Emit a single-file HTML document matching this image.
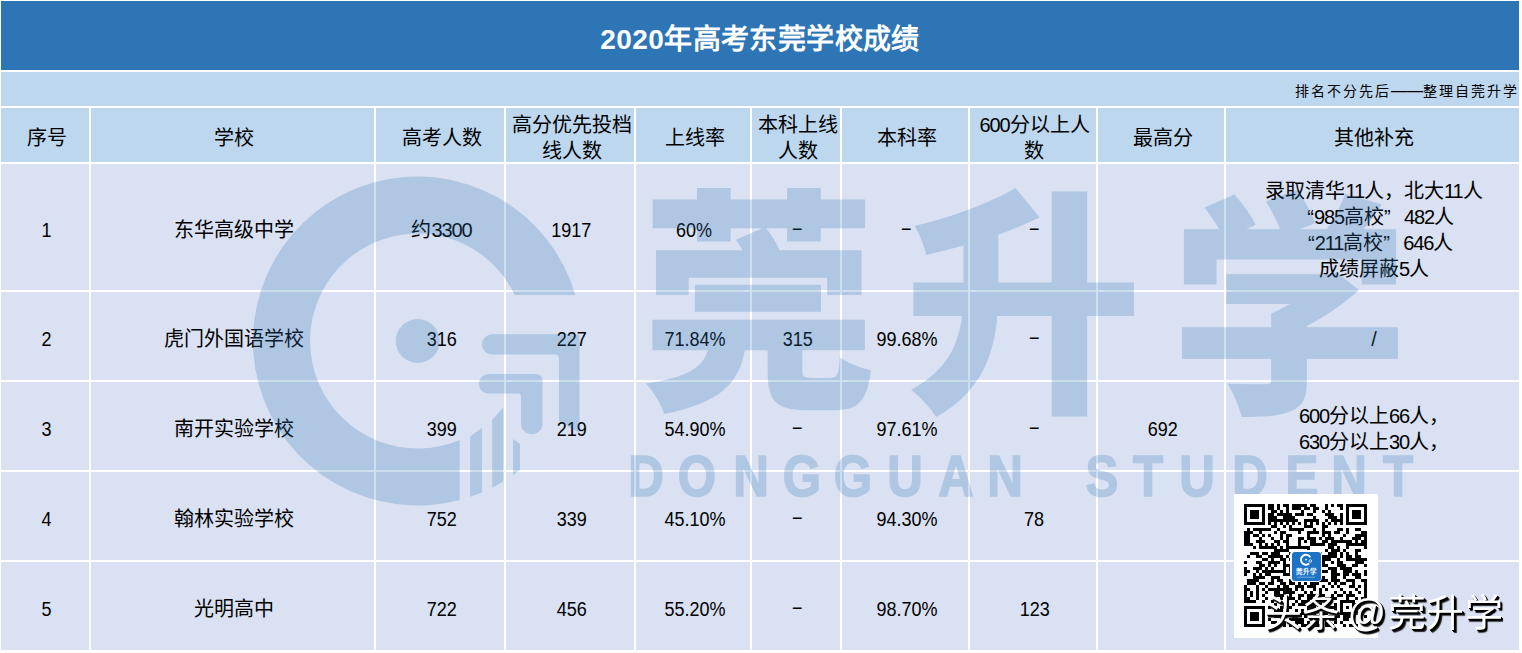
<!DOCTYPE html>
<html lang="zh-CN">
<head>
<meta charset="utf-8">
<title>2020年高考东莞学校成绩</title>
<style>
html,body{margin:0;padding:0;}
body{width:1522px;height:653px;overflow:hidden;background:#fff;position:relative;
  font-family:"Liberation Sans",sans-serif;color:#000;}
#sheet{position:absolute;left:1px;top:1px;display:grid;gap:2px;background:#fff;
  grid-template-columns:88px 283px 128px 128px 114px 88px 126px 126px 126px 293px;
  grid-template-rows:69px 34px 54px 126px 88px 88px 88px 88px;}
#sheet>div{display:flex;align-items:center;justify-content:center;text-align:center;
  font-size:20px;line-height:26px;white-space:nowrap;overflow:hidden;box-sizing:border-box;padding-top:5px;padding-left:3px;}
.title{grid-column:1/-1;background:#2e75b6;color:#fff;font-weight:bold;font-size:28px !important;padding-top:9px !important;padding-left:0 !important;letter-spacing:.4px;}
.sub{grid-column:1/-1;background:#bdd7ee;justify-content:flex-end !important;font-size:14px !important;letter-spacing:2px;padding-top:3px !important;padding-left:0 !important;}
.h{background:#bdd7ee;}
.c{background:#d9e1f2;}
.n{display:inline-block;transform:scaleX(.9);}
.d{letter-spacing:-1.1px;}
.m{display:inline-block;transform:translateY(-2px) scaleX(1.8);}
.em{font-size:16px;letter-spacing:0;}
.q{display:inline-block;width:20px;}
.ql{text-align:right;}
.qr{text-align:left;}
#wm{position:absolute;left:0;top:0;pointer-events:none;}
#qrbox{position:absolute;left:1234px;top:494px;width:144px;height:144px;background:#fff;}
#qrbox svg{position:absolute;left:10px;top:10px;}
#logo{position:absolute;left:56px;top:56px;width:32px;height:32px;background:#fff;border-radius:4.5px;}
#logo i{position:absolute;left:1.5px;top:1.5px;width:29px;height:29px;border-radius:3px;background:#1c73c5;display:block;}
#logo b{position:absolute;left:0;width:32px;top:18px;text-align:center;color:#fff;font-size:6.5px;line-height:8px;font-weight:bold;}
#logo svg{position:absolute;left:0;top:0;}
#tt{position:absolute;left:1263.5px;top:591px;font-size:38px;line-height:44px;color:#fff;white-space:nowrap;
  text-shadow:1px 1px 0 #000,2px 2px 0 #000,2.5px 2.5px 1px #222;}
#tt i{display:inline-block;width:8px;}
#tt span{margin-left:2px;letter-spacing:.4px;}
</style>
</head>
<body>
<div id="sheet">
  <div class="title">2020年高考东莞学校成绩</div>
  <div class="sub">排名不分先后<span class="em">——</span>整理自莞升学</div>

  <div class="h">序号</div>
  <div class="h">学校</div>
  <div class="h">高考人数</div>
  <div class="h">高分优先投档<br>线人数</div>
  <div class="h">上线率</div>
  <div class="h">本科上线<br>人数</div>
  <div class="h">本科率</div>
  <div class="h"><span><span class="d">600</span>分以上人<br>数</span></div>
  <div class="h">最高分</div>
  <div class="h">其他补充</div>

  <div class="c"><span class="n">1</span></div>
  <div class="c">东华高级中学</div>
  <div class="c"><span>约<span class="d">3300</span></span></div>
  <div class="c"><span class="n">1917</span></div>
  <div class="c"><span class="n">60%</span></div>
  <div class="c"><span class="m">-</span></div>
  <div class="c"><span class="m">-</span></div>
  <div class="c"><span class="m">-</span></div>
  <div class="c"></div>
  <div class="c"><span>录取清华<span class="d">11</span>人，北大<span class="d">11</span>人<br><span class="q ql">“</span><span class="d">985</span>高校<span class="q qr">”</span><span class="d">482</span>人<br><span class="q ql">“</span><span class="d">211</span>高校<span class="q qr">”</span><span class="d">646</span>人<br>成绩屏蔽<span class="d">5</span>人</span></div>

  <div class="c"><span class="n">2</span></div>
  <div class="c">虎门外国语学校</div>
  <div class="c"><span class="n">316</span></div>
  <div class="c"><span class="n">227</span></div>
  <div class="c"><span class="n">71.84%</span></div>
  <div class="c"><span class="n">315</span></div>
  <div class="c"><span class="n">99.68%</span></div>
  <div class="c"><span class="m">-</span></div>
  <div class="c"></div>
  <div class="c">/</div>

  <div class="c"><span class="n">3</span></div>
  <div class="c">南开实验学校</div>
  <div class="c"><span class="n">399</span></div>
  <div class="c"><span class="n">219</span></div>
  <div class="c"><span class="n">54.90%</span></div>
  <div class="c"><span class="m">-</span></div>
  <div class="c"><span class="n">97.61%</span></div>
  <div class="c"><span class="m">-</span></div>
  <div class="c"><span class="n">692</span></div>
  <div class="c"><span><span class="d">600</span>分以上<span class="d">66</span>人，<br><span class="d">630</span>分以上<span class="d">30</span>人，</span></div>

  <div class="c"><span class="n">4</span></div>
  <div class="c">翰林实验学校</div>
  <div class="c"><span class="n">752</span></div>
  <div class="c"><span class="n">339</span></div>
  <div class="c"><span class="n">45.10%</span></div>
  <div class="c"><span class="m">-</span></div>
  <div class="c"><span class="n">94.30%</span></div>
  <div class="c"><span class="n">78</span></div>
  <div class="c"></div>
  <div class="c"></div>

  <div class="c"><span class="n">5</span></div>
  <div class="c">光明高中</div>
  <div class="c"><span class="n">722</span></div>
  <div class="c"><span class="n">456</span></div>
  <div class="c"><span class="n">55.20%</span></div>
  <div class="c"><span class="m">-</span></div>
  <div class="c"><span class="n">98.70%</span></div>
  <div class="c"><span class="n">123</span></div>
  <div class="c"></div>
  <div class="c"></div>
</div>

<svg id="wm" width="1522" height="653" viewBox="0 0 1522 653">
  <g fill="#2e75b6" opacity="0.24">
    <path d="M575.4 295A164.5 164.5 0 1 0 459.7 500L459.7 439.9A107.5 107.5 0 1 1 514.7 295Z"/>
    <circle cx="417.7" cy="341" r="22"/>
    <path d="M470.2 436.5L482 427.7V492.3A164.5 164.5 0 0 1 470.2 496.8Z"/>
    <path d="M492.2 420L503.2 407.5V481.4A164.5 164.5 0 0 1 492.2 487.6Z"/>
    <path d="M513 439L520 444V469.7A164.5 164.5 0 0 1 513 474.9Z"/>
    <path d="M492.2 334.2H576.5Q579.5 334.2 579.5 337.2V433L559 421V358.6Q559 354.6 555 354.6H492.2A10.2 10.2 0 0 1 492.2 334.2Z"/>
    <path d="M488.8 374H535.5Q542.5 374 542.5 381V423.4A10.75 10.75 0 0 1 521 423.4V396.6Q521 393.6 518 393.6H488.8A9.8 9.8 0 0 1 488.8 374Z"/>
<path transform="translate(640.07 390.97) scale(0.2371 -0.2374)" d="M231 447V334H763V447ZM52 300V171H286C264 100 205 57 25 31C54 0 90 -59 102 -97C345 -50 417 37 442 171H538V89C538 -38 567 -81 702 -81C728 -81 791 -81 819 -81C918 -81 957 -47 974 87C934 96 871 119 842 142C838 66 832 55 804 55C787 55 738 55 723 55C690 55 684 58 684 91V171H948V300ZM404 637C413 624 423 609 432 593H67V404H205V477H789V404H934V593H589C575 623 554 657 532 685H620V630H762V685H949V807H762V855H620V807H382V855H240V807H53V685H240V630H382V685H516Z"/>
<path transform="translate(904.58 393.91) scale(0.2377 -0.2405)" d="M467 856C357 793 197 734 42 698C61 666 84 613 91 578C142 589 195 602 248 617V463H37V324H242C228 209 179 96 27 17C61 -8 111 -62 133 -96C324 8 377 166 390 324H619V-94H768V324H965V463H768V842H619V463H394V662C455 683 514 707 568 733Z"/>
<path transform="translate(1169.77 395.82) scale(0.2397 -0.2379)" d="M423 346V288H51V155H423V66C423 53 417 49 397 49C377 48 298 48 242 51C264 14 291 -48 300 -89C382 -89 449 -87 502 -66C555 -46 572 -9 572 62V155H952V288H572V294C654 337 730 391 789 445L697 518L667 511H236V386H502C477 371 449 357 423 346ZM401 817C423 782 446 737 460 700H319L358 718C342 756 303 808 269 846L145 791C166 764 189 730 206 700H59V468H195V573H801V468H944V700H809C834 732 860 768 885 804L733 848C715 803 685 746 655 700H542L607 725C594 765 561 823 530 865Z"/>
    <g transform="scale(0.85 1)" font-family="Liberation Sans, sans-serif" font-weight="bold" font-size="58" text-anchor="middle" stroke="#2e75b6" stroke-width="1.6">
      <text y="496.5" x="760 820 883.5 943.5 1003.5 1064.7 1124.7 1182.4">DONGGUAN</text>
      <text y="496.5" x="1296.5 1350.6 1408.2 1470.6 1531.8 1587 1644.7">STUDENT</text>
    </g>
  </g>
</svg>

<div id="qrbox">
  <svg width="123" height="123" viewBox="0 0 41 41" shape-rendering="crispEdges"><path fill="#000" d="M0 0h7v1h-7zM8 0h2v1h-2zM11 0h1v1h-1zM13 0h2v1h-2zM16 0h5v1h-5zM22 0h2v1h-2zM27 0h1v1h-1zM29 0h1v1h-1zM31 0h2v1h-2zM34 0h7v1h-7zM0 1h1v1h-1zM6 1h1v1h-1zM8 1h2v1h-2zM11 1h1v1h-1zM14 1h1v1h-1zM16 1h3v1h-3zM20 1h2v1h-2zM23 1h2v1h-2zM27 1h1v1h-1zM32 1h1v1h-1zM34 1h1v1h-1zM40 1h1v1h-1zM0 2h1v1h-1zM2 2h3v1h-3zM6 2h1v1h-1zM9 2h2v1h-2zM12 2h1v1h-1zM14 2h1v1h-1zM19 2h1v1h-1zM23 2h1v1h-1zM26 2h1v1h-1zM28 2h1v1h-1zM34 2h1v1h-1zM36 2h3v1h-3zM40 2h1v1h-1zM0 3h1v1h-1zM2 3h3v1h-3zM6 3h1v1h-1zM8 3h2v1h-2zM11 3h5v1h-5zM17 3h3v1h-3zM21 3h2v1h-2zM27 3h3v1h-3zM32 3h1v1h-1zM34 3h1v1h-1zM36 3h3v1h-3zM40 3h1v1h-1zM0 4h1v1h-1zM2 4h3v1h-3zM6 4h1v1h-1zM8 4h3v1h-3zM13 4h4v1h-4zM23 4h1v1h-1zM28 4h3v1h-3zM32 4h1v1h-1zM34 4h1v1h-1zM36 4h3v1h-3zM40 4h1v1h-1zM0 5h1v1h-1zM6 5h1v1h-1zM8 5h10v1h-10zM20 5h5v1h-5zM27 5h1v1h-1zM29 5h4v1h-4zM34 5h1v1h-1zM40 5h1v1h-1zM0 6h7v1h-7zM8 6h1v1h-1zM10 6h1v1h-1zM12 6h1v1h-1zM14 6h1v1h-1zM16 6h1v1h-1zM18 6h1v1h-1zM20 6h1v1h-1zM22 6h1v1h-1zM24 6h1v1h-1zM26 6h1v1h-1zM28 6h1v1h-1zM30 6h1v1h-1zM32 6h1v1h-1zM34 6h7v1h-7zM9 7h2v1h-2zM13 7h1v1h-1zM15 7h1v1h-1zM20 7h3v1h-3zM26 7h2v1h-2zM1 8h1v1h-1zM3 8h6v1h-6zM11 8h1v1h-1zM15 8h5v1h-5zM23 8h1v1h-1zM26 8h1v1h-1zM31 8h2v1h-2zM34 8h1v1h-1zM37 8h2v1h-2zM0 9h3v1h-3zM5 9h1v1h-1zM10 9h1v1h-1zM12 9h2v1h-2zM18 9h1v1h-1zM21 9h4v1h-4zM26 9h3v1h-3zM30 9h2v1h-2zM34 9h1v1h-1zM39 9h2v1h-2zM0 10h2v1h-2zM3 10h2v1h-2zM6 10h1v1h-1zM8 10h1v1h-1zM12 10h1v1h-1zM14 10h2v1h-2zM21 10h1v1h-1zM26 10h1v1h-1zM28 10h1v1h-1zM33 10h1v1h-1zM37 10h4v1h-4zM0 11h2v1h-2zM5 11h1v1h-1zM9 11h1v1h-1zM12 11h1v1h-1zM14 11h1v1h-1zM18 11h2v1h-2zM21 11h3v1h-3zM25 11h1v1h-1zM27 11h3v1h-3zM32 11h1v1h-1zM36 11h3v1h-3zM40 11h1v1h-1zM0 12h2v1h-2zM4 12h3v1h-3zM10 12h2v1h-2zM13 12h2v1h-2zM18 12h1v1h-1zM20 12h1v1h-1zM22 12h2v1h-2zM26 12h2v1h-2zM29 12h7v1h-7zM37 12h1v1h-1zM39 12h2v1h-2zM0 13h3v1h-3zM5 13h1v1h-1zM7 13h1v1h-1zM9 13h1v1h-1zM11 13h1v1h-1zM14 13h1v1h-1zM18 13h1v1h-1zM22 13h5v1h-5zM28 13h3v1h-3zM34 13h7v1h-7zM3 14h1v1h-1zM5 14h6v1h-6zM12 14h1v1h-1zM14 14h8v1h-8zM28 14h2v1h-2zM31 14h1v1h-1zM34 14h1v1h-1zM40 14h1v1h-1zM10 15h5v1h-5zM21 15h1v1h-1zM27 15h1v1h-1zM29 15h3v1h-3zM33 15h1v1h-1zM37 15h2v1h-2zM2 16h3v1h-3zM6 16h2v1h-2zM9 16h3v1h-3zM15 16h1v1h-1zM17 16h3v1h-3zM21 16h1v1h-1zM24 16h2v1h-2zM28 16h3v1h-3zM32 16h1v1h-1zM34 16h1v1h-1zM37 16h1v1h-1zM1 17h1v1h-1zM4 17h2v1h-2zM8 17h5v1h-5zM14 17h1v1h-1zM17 17h1v1h-1zM21 17h3v1h-3zM26 17h5v1h-5zM32 17h1v1h-1zM34 17h2v1h-2zM37 17h2v1h-2zM6 18h2v1h-2zM9 18h1v1h-1zM12 18h2v1h-2zM15 18h4v1h-4zM21 18h1v1h-1zM23 18h1v1h-1zM25 18h4v1h-4zM31 18h1v1h-1zM34 18h7v1h-7zM0 19h1v1h-1zM4 19h2v1h-2zM8 19h4v1h-4zM13 19h1v1h-1zM17 19h5v1h-5zM25 19h2v1h-2zM29 19h1v1h-1zM31 19h2v1h-2zM37 19h3v1h-3zM5 20h2v1h-2zM8 20h1v1h-1zM10 20h1v1h-1zM13 20h3v1h-3zM18 20h2v1h-2zM22 20h2v1h-2zM25 20h3v1h-3zM31 20h3v1h-3zM36 20h2v1h-2zM40 20h1v1h-1zM0 21h1v1h-1zM3 21h3v1h-3zM7 21h1v1h-1zM9 21h1v1h-1zM13 21h1v1h-1zM15 21h1v1h-1zM17 21h2v1h-2zM20 21h1v1h-1zM23 21h3v1h-3zM28 21h3v1h-3zM32 21h4v1h-4zM0 22h2v1h-2zM4 22h1v1h-1zM6 22h8v1h-8zM15 22h1v1h-1zM17 22h2v1h-2zM21 22h4v1h-4zM26 22h2v1h-2zM29 22h2v1h-2zM33 22h3v1h-3zM37 22h1v1h-1zM40 22h1v1h-1zM0 23h1v1h-1zM3 23h1v1h-1zM5 23h1v1h-1zM7 23h2v1h-2zM13 23h3v1h-3zM18 23h3v1h-3zM23 23h1v1h-1zM29 23h3v1h-3zM33 23h2v1h-2zM36 23h3v1h-3zM40 23h1v1h-1zM3 24h4v1h-4zM9 24h3v1h-3zM17 24h1v1h-1zM19 24h1v1h-1zM21 24h1v1h-1zM23 24h4v1h-4zM29 24h2v1h-2zM33 24h1v1h-1zM37 24h2v1h-2zM1 25h4v1h-4zM9 25h1v1h-1zM11 25h2v1h-2zM15 25h1v1h-1zM18 25h5v1h-5zM25 25h3v1h-3zM29 25h3v1h-3zM34 25h3v1h-3zM39 25h2v1h-2zM1 26h3v1h-3zM5 26h2v1h-2zM8 26h2v1h-2zM12 26h2v1h-2zM15 26h2v1h-2zM18 26h1v1h-1zM20 26h1v1h-1zM22 26h3v1h-3zM28 26h1v1h-1zM30 26h1v1h-1zM32 26h2v1h-2zM36 26h1v1h-1zM40 26h1v1h-1zM0 27h1v1h-1zM4 27h1v1h-1zM7 27h1v1h-1zM11 27h1v1h-1zM13 27h2v1h-2zM17 27h3v1h-3zM21 27h3v1h-3zM26 27h1v1h-1zM29 27h1v1h-1zM31 27h1v1h-1zM35 27h2v1h-2zM38 27h1v1h-1zM40 27h1v1h-1zM0 28h2v1h-2zM4 28h1v1h-1zM6 28h1v1h-1zM8 28h8v1h-8zM17 28h1v1h-1zM19 28h1v1h-1zM23 28h1v1h-1zM25 28h1v1h-1zM27 28h1v1h-1zM32 28h1v1h-1zM37 28h1v1h-1zM40 28h1v1h-1zM0 29h1v1h-1zM2 29h1v1h-1zM4 29h1v1h-1zM7 29h1v1h-1zM10 29h2v1h-2zM13 29h4v1h-4zM20 29h1v1h-1zM22 29h1v1h-1zM25 29h1v1h-1zM30 29h1v1h-1zM33 29h1v1h-1zM35 29h1v1h-1zM38 29h1v1h-1zM40 29h1v1h-1zM0 30h1v1h-1zM2 30h1v1h-1zM4 30h1v1h-1zM6 30h1v1h-1zM10 30h4v1h-4zM15 30h1v1h-1zM18 30h2v1h-2zM21 30h6v1h-6zM29 30h1v1h-1zM31 30h2v1h-2zM34 30h3v1h-3zM40 30h1v1h-1zM0 31h2v1h-2zM4 31h1v1h-1zM7 31h1v1h-1zM10 31h1v1h-1zM12 31h1v1h-1zM14 31h3v1h-3zM18 31h1v1h-1zM21 31h2v1h-2zM27 31h4v1h-4zM34 31h1v1h-1zM37 31h1v1h-1zM39 31h2v1h-2zM0 32h4v1h-4zM6 32h1v1h-1zM9 32h1v1h-1zM11 32h1v1h-1zM14 32h1v1h-1zM17 32h1v1h-1zM19 32h3v1h-3zM25 32h1v1h-1zM27 32h2v1h-2zM32 32h5v1h-5zM39 32h1v1h-1zM10 33h1v1h-1zM13 33h2v1h-2zM16 33h1v1h-1zM18 33h3v1h-3zM22 33h4v1h-4zM30 33h1v1h-1zM32 33h1v1h-1zM36 33h2v1h-2zM0 34h7v1h-7zM8 34h1v1h-1zM12 34h4v1h-4zM21 34h3v1h-3zM25 34h6v1h-6zM32 34h1v1h-1zM34 34h1v1h-1zM36 34h3v1h-3zM0 35h1v1h-1zM6 35h1v1h-1zM10 35h3v1h-3zM14 35h1v1h-1zM17 35h1v1h-1zM19 35h1v1h-1zM21 35h3v1h-3zM26 35h1v1h-1zM30 35h1v1h-1zM32 35h1v1h-1zM36 35h2v1h-2zM39 35h1v1h-1zM0 36h1v1h-1zM2 36h3v1h-3zM6 36h1v1h-1zM8 36h2v1h-2zM12 36h1v1h-1zM14 36h1v1h-1zM19 36h3v1h-3zM23 36h1v1h-1zM25 36h3v1h-3zM30 36h1v1h-1zM32 36h7v1h-7zM0 37h1v1h-1zM2 37h3v1h-3zM6 37h1v1h-1zM10 37h3v1h-3zM16 37h2v1h-2zM20 37h2v1h-2zM23 37h3v1h-3zM28 37h4v1h-4zM33 37h3v1h-3zM38 37h1v1h-1zM40 37h1v1h-1zM0 38h1v1h-1zM2 38h3v1h-3zM6 38h1v1h-1zM8 38h1v1h-1zM12 38h2v1h-2zM15 38h5v1h-5zM24 38h2v1h-2zM27 38h1v1h-1zM30 38h1v1h-1zM33 38h2v1h-2zM0 39h1v1h-1zM6 39h1v1h-1zM9 39h2v1h-2zM12 39h2v1h-2zM17 39h3v1h-3zM21 39h1v1h-1zM24 39h1v1h-1zM27 39h1v1h-1zM30 39h1v1h-1zM32 39h1v1h-1zM36 39h1v1h-1zM0 40h7v1h-7zM11 40h1v1h-1zM13 40h1v1h-1zM15 40h1v1h-1zM17 40h1v1h-1zM19 40h7v1h-7zM27 40h3v1h-3zM33 40h1v1h-1zM35 40h3v1h-3z"/></svg>
  <div id="logo"><i></i><svg width="32" height="32" viewBox="0 0 32 32"><path d="M20.3 7.2A5 5 0 1 0 19.2 13.6" fill="none" stroke="#fff" stroke-width="2"/><circle cx="16" cy="9.6" r=".9" fill="#fff"/><circle cx="20.3" cy="11" r="1.3" fill="none" stroke="#fff" stroke-width=".8"/><rect x="7" y="26.8" width="18" height=".7" fill="#fff" opacity=".55"/></svg><b>莞升学</b></div>
</div>
<div id="tt">头条<i> </i>@<span>莞升学</span></div>
</body>
</html>
